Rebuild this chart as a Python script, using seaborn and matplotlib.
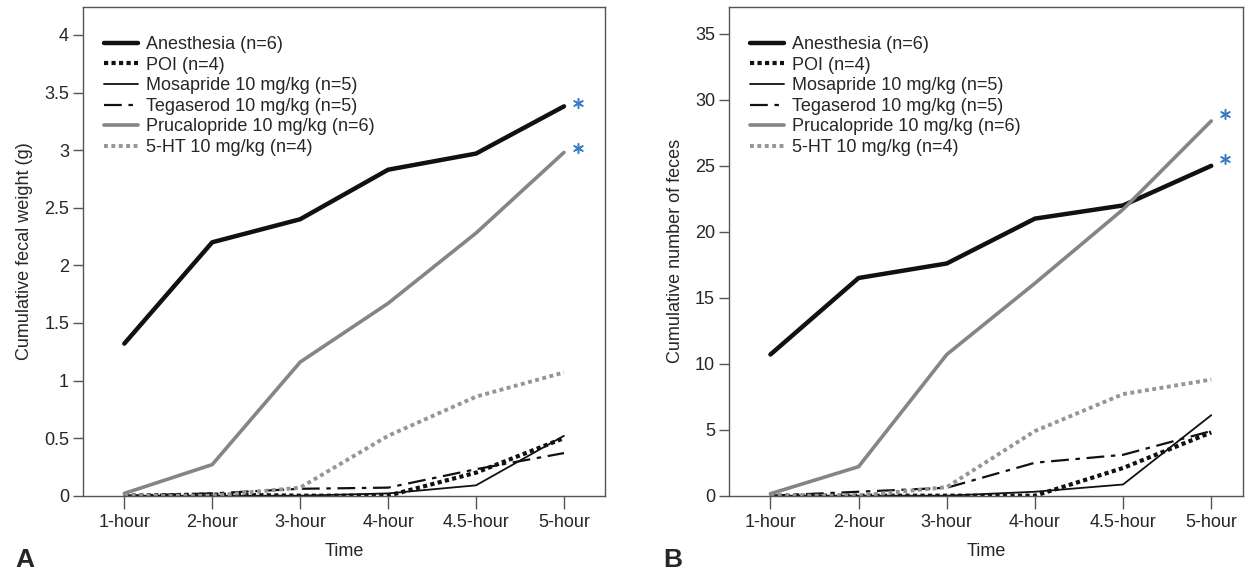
import numpy as np
import pandas as pd
import matplotlib
matplotlib.use("Agg")
import matplotlib.pyplot as plt
import seaborn as sns

# time points (x categories)
times = ["1-hour", "2-hour", "3-hour", "4-hour", "4.5-hour", "5-hour"]

groups = ["Anesthesia (n=6)", "POI (n=4)", "Mosapride 10 mg/kg (n=5)",
          "Tegaserod 10 mg/kg (n=5)", "Prucalopride 10 mg/kg (n=6)", "5-HT 10 mg/kg (n=4)"]

# A: cumulative fecal weight (g)
weight_anesthesia = [1.32, 2.20, 2.40, 2.83, 2.97, 3.38]
weight_poi = [0.0, 0.01, 0.0, 0.0, 0.20, 0.50]
weight_mosapride = [0.0, 0.0, 0.0, 0.02, 0.09, 0.52]
weight_tegaserod = [0.0, 0.02, 0.06, 0.07, 0.23, 0.37]
weight_prucalopride = [0.02, 0.27, 1.16, 1.67, 2.28, 2.98]
weight_5ht = [0.0, 0.0, 0.07, 0.52, 0.86, 1.07]

# B: cumulative number of feces
count_anesthesia = [10.7, 16.5, 17.6, 21.0, 22.0, 25.0]
count_poi = [0.0, 0.0, 0.0, 0.0, 2.1, 4.8]
count_mosapride = [0.0, 0.0, 0.0, 0.3, 0.85, 6.1]
count_tegaserod = [0.0, 0.3, 0.6, 2.5, 3.1, 4.9]
count_prucalopride = [0.15, 2.2, 10.7, 16.1, 21.7, 28.4]
count_5ht = [0.0, 0.0, 0.65, 4.9, 7.7, 8.8]

# significance asterisks at 5-hour
star_weight = [3.41, 3.02]
star_count = [28.9, 25.5]

sns.set_style("ticks")
plt.rcParams['font.family'] = ['Liberation Sans', 'DejaVu Sans']
plt.rcParams['font.size'] = 13
FS = 13

# line styles for each group
styles = [
    dict(color="#111111", lw=3.2, ls="-"),
    dict(color="#111111", lw=3.0, ls=(0, (1, 0.8))),
    dict(color="#111111", lw=1.3, ls="-"),
    dict(color="#111111", lw=1.6, ls=(0, (8, 3, 2, 3))),
    dict(color="#858585", lw=2.6, ls="-"),
    dict(color="#959595", lw=2.8, ls=(0, (1, 0.9))),
]

fig = plt.figure(figsize=(12.53, 5.73), dpi=100)
axA = fig.add_axes([0.0662, 0.1349, 0.4166, 0.8534])
axB = fig.add_axes([0.5818, 0.1349, 0.4102, 0.8534])


def draw(ax, series, stars, ylabel, ymax, yticks, xright):
    for name, vals, st in zip(groups, series, styles):
        df = pd.DataFrame({"Time": times, "val": vals})
        sns.lineplot(data=df, x="Time", y="val", ax=ax, color=st["color"],
                     linewidth=st["lw"], linestyle=st["ls"], label=name,
                     sort=False)
    ax.scatter([times[-1]] * len(stars), stars, marker=(6, 2, 0), s=50,
               color="#3b7dc4", linewidths=1.1, zorder=5)
    # shift asterisks a bit to the right of the 5-hour point
    for coll in ax.collections:
        offs = coll.get_offsets()
        offs[:, 0] = offs[:, 0] + 0.16
        coll.set_offsets(offs)
    ax.set_xlim(-0.47, xright)
    ax.set_ylim(0, ymax)
    ax.set_yticks(yticks)
    ax.set_yticklabels(["%g" % t for t in yticks])
    ax.set_xlabel("Time", fontsize=FS, labelpad=9)
    ax.set_ylabel(ylabel, fontsize=FS, labelpad=8)
    for sp in ax.spines.values():
        sp.set_visible(True)
        sp.set_color("#555555")
        sp.set_linewidth(1.0)
    ax.tick_params(axis="y", direction="out", length=7, width=1, color="#555555", labelsize=FS, pad=3)
    ax.tick_params(axis="x", direction="out", length=9, width=1, color="#555555", labelsize=FS, pad=4)
    ax.legend(loc="upper left", bbox_to_anchor=(0.04, 0.94), frameon=False,
              borderpad=0, borderaxespad=0, handlelength=1.9,
              handletextpad=0.45, labelspacing=0.2, fontsize=FS)


draw(axA, [weight_anesthesia, weight_poi, weight_mosapride, weight_tegaserod,
           weight_prucalopride, weight_5ht], star_weight,
     "Cumulative fecal weight (g)", 4.245, [0, 0.5, 1, 1.5, 2, 2.5, 3, 3.5, 4], 5.466)
draw(axB, [count_anesthesia, count_poi, count_mosapride, count_tegaserod,
           count_prucalopride, count_5ht], star_count,
     "Cumulative number of feces", 37.06, [0, 5, 10, 15, 20, 25, 30, 35], 5.36)

fig.text(0.012, 0.001, "A", fontsize=19, fontweight="bold", ha="left", va="bottom")
fig.text(0.529, 0.001, "B", fontsize=19, fontweight="bold", ha="left", va="bottom")

fig.savefig("out.png", dpi=100)
